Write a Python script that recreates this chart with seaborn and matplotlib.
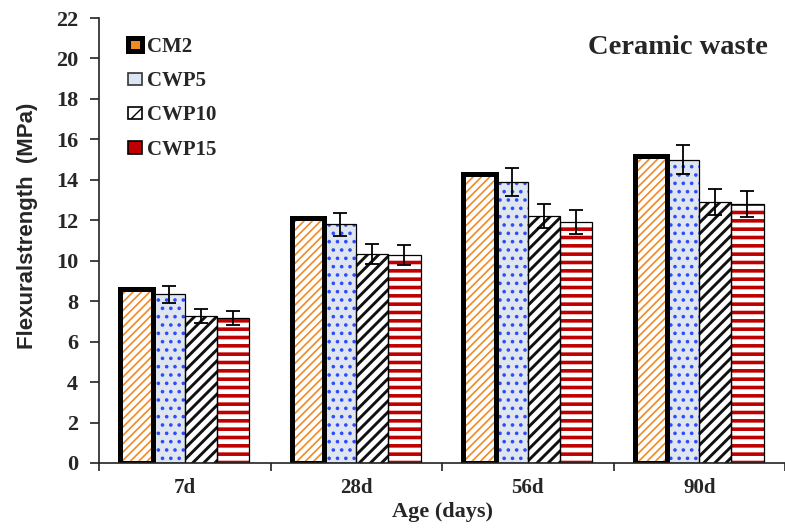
import matplotlib
matplotlib.use("Agg")
import numpy as np
import pandas as pd
import matplotlib.pyplot as plt
import matplotlib.patches as mpatches
import seaborn as sns

# Flexural strength of mortar mixes with ceramic waste powder
ages = ["7d", "28d", "56d", "90d"]
mixes = ["CM2", "CWP5", "CWP10", "CWP15"]

cm2 = [8.6, 12.1, 14.3, 15.2]
cwp5 = [8.35, 11.8, 13.9, 15.0]
cwp10 = [7.25, 10.35, 12.2, 12.9]
cwp15 = [7.15, 10.3, 11.9, 12.8]

# standard deviations (the control mix is plotted without error bars)
sd_cm2 = [np.nan, np.nan, np.nan, np.nan]
sd_cwp5 = [0.42, 0.58, 0.7, 0.7]
sd_cwp10 = [0.35, 0.5, 0.6, 0.65]
sd_cwp15 = [0.35, 0.5, 0.6, 0.65]

y_ticks = [0, 2, 4, 6, 8, 10, 12, 14, 16, 18, 20, 22]

values = {"CM2": cm2, "CWP5": cwp5, "CWP10": cwp10, "CWP15": cwp15}
sds = {"CM2": sd_cm2, "CWP5": sd_cwp5, "CWP10": sd_cwp10, "CWP15": sd_cwp15}
df = pd.DataFrame(
    [(a, m, values[m][i], sds[m][i]) for m in mixes for i, a in enumerate(ages)],
    columns=["Age", "Mix", "Strength", "SD"],
)

# bar styles: fill, hatch, hatch colour, hatch width, outline width
styles = {
    "CM2": dict(fill="white", hatch="////", hcolor="#F08A24", hlw=1.2, elw=3.6),
    "CWP5": dict(fill="#DCE6F2", hatch="..", hcolor="#2F4BFF", hlw=1.4, elw=0.9),
    "CWP10": dict(fill="white", hatch="///", hcolor="#111111", hlw=2.1, elw=0.9),
    "CWP15": dict(fill="white", hatch="--", hcolor="#C00000", hlw=2.6, elw=0.9),
}

sns.set_theme(style="ticks")
plt.rcParams["font.family"] = ["Liberation Serif", "DejaVu Serif"]
plt.rcParams["font.weight"] = "bold"

fig = plt.figure(figsize=(7.85, 5.29), dpi=100)
ax = fig.add_axes([99 / 785, 66 / 529, 686 / 785, 445 / 529])

fill_palette = {m: styles[m]["fill"] for m in mixes}

# hatched fills
sns.barplot(data=df, x="Age", y="Strength", hue="Mix", order=ages,
            hue_order=mixes, palette=fill_palette, errorbar=None,
            width=0.75, legend=False, ax=ax, zorder=1)
for m, cont in zip(mixes, ax.containers[:4]):
    st = styles[m]
    for bar in cont:
        bar.set_hatch(st["hatch"])
        bar.set_edgecolor(st["hcolor"])
        bar.set_linewidth(0)
        if hasattr(bar, "set_hatch_linewidth"):
            bar.set_hatch_linewidth(st["hlw"])

# black outlines on top
sns.barplot(data=df, x="Age", y="Strength", hue="Mix", order=ages,
            hue_order=mixes, palette=fill_palette, errorbar=None,
            width=0.75, legend=False, ax=ax, fill=False, zorder=2)
for m, cont in zip(mixes, ax.containers[4:8]):
    for bar in cont:
        bar.set_facecolor("none")
        bar.set_edgecolor("black")
        bar.set_linewidth(styles[m]["elw"])
        bar.set_joinstyle("miter")

# error bars at the centres of the drawn bars
for m, cont in zip(mixes, ax.containers[:4]):
    xs = [b.get_x() + b.get_width() / 2 for b in cont]
    ys = [b.get_height() for b in cont]
    err = np.array(sds[m], dtype=float)
    if np.all(np.isnan(err)):
        continue
    ax.errorbar(xs, ys, yerr=err, fmt="none", ecolor="black",
                elinewidth=1.3, capsize=5, capthick=1.3, zorder=3)

# axes
ax.set_xlim(-0.5, 3.5)
ax.set_ylim(0, 22)
ax.set_yticks(y_ticks)
ax.set_yticklabels([str(t) for t in y_ticks])
ax.set_xticks(range(len(ages)))
ax.set_xticklabels(ages)
ax.set_xticks(np.arange(-0.5, len(ages), 1.0), minor=True)
ax.tick_params(axis="x", which="major", length=0, pad=11, labelsize=15)
ax.tick_params(axis="x", which="minor", length=6, width=1.2, direction="out",
               color="#222222")
ax.tick_params(axis="y", length=6.5, width=1.2, direction="out", pad=8.5,
               labelsize=16, color="#222222")
for lab in ax.get_xticklabels() + ax.get_yticklabels():
    lab.set_fontweight("bold")

for side in ["top", "right"]:
    ax.spines[side].set_visible(False)
for side in ["left", "bottom"]:
    ax.spines[side].set_linewidth(1.2)
    ax.spines[side].set_color("#222222")

ax.set_xlabel("Age (days)", fontsize=16, fontweight="bold")
ax.xaxis.set_label_coords(0.5, -0.088)
ax.set_ylabel("Flexuralstrength  (MPa)", fontsize=16, fontweight="bold",
              family=["Liberation Sans", "DejaVu Sans"])
ax.yaxis.set_label_coords(-0.089, 0.533)

ax.text(0.975, 0.933, "Ceramic waste", transform=ax.transAxes, ha="right",
        va="center", fontsize=20.5, fontweight="bold")

# legend
handles = [
    mpatches.Patch(facecolor="#F08A24", edgecolor="black", linewidth=3.6,
                   label="CM2"),
    mpatches.Patch(facecolor="#DCE6F2", edgecolor="#333333", linewidth=1.2,
                   label="CWP5"),
    mpatches.Patch(facecolor="white", edgecolor="black", linewidth=1.2,
                   hatch="//", label="CWP10"),
    mpatches.Patch(facecolor="#C00000", edgecolor="black", linewidth=1.2,
                   label="CWP15"),
]
leg = ax.legend(handles=handles, loc="upper left",
                bbox_to_anchor=(0.042, 0.957), frameon=False, borderpad=0,
                borderaxespad=0, handlelength=0.7, handleheight=0.55,
                handletextpad=0.2, labelspacing=0.68,
                prop={"size": 15, "weight": "bold",
                      "family": ["Liberation Serif", "DejaVu Serif"]})

fig.savefig("out.png", dpi=100)
